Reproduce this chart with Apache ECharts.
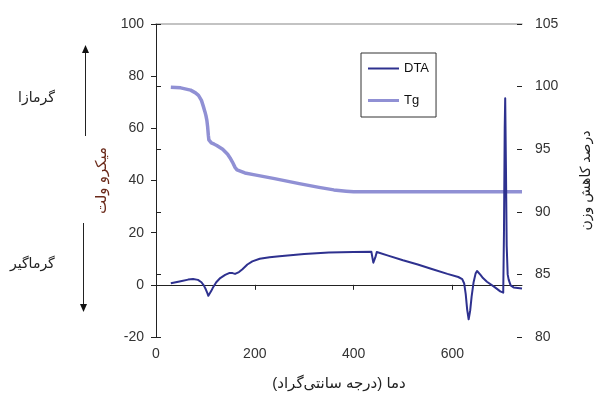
<!DOCTYPE html>
<html>
<head>
<meta charset="utf-8">
<script src="https://cdn.jsdelivr.net/npm/echarts@6/dist/echarts.min.js"></script>
<style>html,body{margin:0;padding:0;background:#fff;}#c{width:594px;height:394px;}</style>
</head>
<body>
<div id="c"></div>
<script>
// ---- data ----
var dtaTemp = [30, 50, 65, 75, 85, 92, 97, 101, 104, 106, 107.5, 109, 112, 116, 122, 130, 140, 148, 155, 160, 164, 168, 175, 185, 195, 210, 230, 250, 300, 350, 400, 436, 438, 440, 442, 444, 447, 470, 500, 530, 560, 590, 612, 620, 624, 627, 630, 633, 636, 639, 643, 647, 650, 653, 657, 662, 670, 685, 697, 703, 704.5, 706, 707, 708.5, 710, 712, 714, 718, 724, 741];
var dtaVal  = [0.6, 1.4, 2.0, 2.2, 1.9, 1.0, -0.3, -1.8, -3.2, -4.2, -4.6, -3.8, -2.3, -0.8, 1.0, 2.6, 3.8, 4.5, 4.5, 4.2, 4.3, 4.9, 6.0, 7.8, 9.0, 10.0, 10.6, 11.0, 11.8, 12.4, 12.6, 12.7, 12.0, 8.5, 8.0, 10.5, 12.6, 11.2, 9.4, 7.8, 6.0, 4.2, 3.0, 2.2, 0.5, -3.5, -9.5, -13.2, -10.0, -4.5, 1.0, 4.3, 5.3, 5.0, 3.8, 2.6, 1.2, -0.8, -2.5, -3.0, 20, 60, 71.5, 45, 15, 4, 2, -0.2, -1.0, -1.4];
var tgTemp = [30, 50, 70, 80, 86, 92, 96, 99, 101, 103, 104.5, 106, 107, 109, 112, 118, 123, 135, 145, 150, 155, 160, 164, 168, 180, 200, 240, 290, 330, 360, 385, 400, 741];
var tgVal  = [99.95, 99.9, 99.72, 99.5, 99.3, 98.9, 98.4, 98.0, 97.7, 97.3, 96.8, 96.1, 95.75, 95.6, 95.5, 95.4, 95.3, 95.0, 94.6, 94.3, 93.95, 93.55, 93.35, 93.22, 93.1, 92.95, 92.65, 92.25, 91.95, 91.75, 91.65, 91.6, 91.6];
var xTicks = [0, 200, 400, 600];
var leftTicks = [-20, 0, 20, 40, 60, 80, 100];
var rightTicks = [80, 85, 90, 95, 100, 105];
var seriesNames = ['DTA', 'Tg'];
var xName = 'دما (درجه سانتی\u200cگراد)\u200f';
var leftName = 'میکرو ولت';
var rightName = 'درصد کاهش وزن';
var upLabel = 'گرمازا';
var downLabel = 'گرماگیر';

function zip(a, b) { return a.map(function (v, i) { return [v, b[i]]; }); }

var FONT = '"Liberation Sans", "DejaVu Sans", Arial, sans-serif';
var chart = echarts.init(document.getElementById('c'), null, {renderer: 'canvas'});
chart.setOption({
  animation: false,
  backgroundColor: '#fff',
  textStyle: {fontFamily: FONT},
  grid: {left: 156, right: 72, top: 24, bottom: 57, containLabel: false, outerBoundsMode: 'none'},
  legend: {
    data: [
      {name: seriesNames[0], icon: 'path://M0,0L31,0L31,2L0,2Z'},
      {name: seriesNames[1], icon: 'path://M0,0L31,0L31,3L0,3Z'}
    ],
    orient: 'vertical',
    left: 361, top: 53,
    padding: [9, 7, 10, 7],
    itemWidth: 31, itemHeight: 14, itemGap: 19,
    symbolKeepAspect: true,
    borderColor: '#333', borderWidth: 1,
    textStyle: {fontSize: 13, color: '#111', fontFamily: FONT}
  },
  xAxis: [{
    type: 'value', position: 'bottom', min: xTicks[0], max: 741, interval: 200,
    name: xName, nameLocation: 'middle', nameGap: 39,
    nameTextStyle: {fontSize: 15, color: '#222', fontFamily: FONT},
    axisLine: {lineStyle: {color: '#222', width: 1}},
    axisTick: {show: true, length: 5, lineStyle: {color: '#222'}},
    axisLabel: {fontSize: 14, color: '#333', margin: 10, showMaxLabel: false,
      formatter: function (v) { return xTicks.indexOf(v) >= 0 ? String(v) : ''; }},
    splitLine: {show: false}
  }, {
    type: 'value', position: 'top', min: 0, max: 741,
    axisLine: {show: true, lineStyle: {color: '#b0b0b0', width: 1.5}},
    axisTick: {show: false}, axisLabel: {show: false}, splitLine: {show: false}
  }],
  yAxis: [{
    type: 'value', position: 'left', min: leftTicks[0], max: leftTicks[leftTicks.length - 1], interval: 20,
    name: leftName, nameLocation: 'middle', nameGap: 44, nameRotate: 90,
    nameTextStyle: {fontSize: 15, color: '#6b2a1a', fontFamily: FONT},
    axisLine: {show: true, lineStyle: {color: '#222', width: 1}},
    axisTick: {show: true, length: 5, lineStyle: {color: '#222'}},
    axisLabel: {fontSize: 14, color: '#333', margin: 12},
    splitLine: {show: false}
  }, {
    type: 'value', position: 'right', min: rightTicks[0], max: rightTicks[rightTicks.length - 1], interval: 5,
    name: rightName, nameLocation: 'middle', nameGap: 57, nameRotate: 90,
    nameTextStyle: {fontSize: 14, color: '#222', fontFamily: FONT},
    axisLine: {show: true, lineStyle: {color: '#222', width: 1}},
    axisTick: {show: true, length: 5, lineStyle: {color: '#222'}},
    axisLabel: {fontSize: 14, color: '#333', margin: 13},
    splitLine: {show: false}
  }, {
    type: 'value', position: 'right', min: rightTicks[0], max: rightTicks[rightTicks.length - 1], interval: 5,
    axisLine: {show: false},
    axisTick: {show: true, inside: true, length: 5, lineStyle: {color: '#222'}},
    axisLabel: {show: false}, splitLine: {show: false}
  }],
  series: [{
    name: seriesNames[0], type: 'line', xAxisIndex: 0, yAxisIndex: 0,
    data: zip(dtaTemp, dtaVal), symbol: 'none', showSymbol: false, smooth: false,
    lineStyle: {color: '#2e318f', width: 2, join: 'round'}, itemStyle: {color: '#2e318f'}, z: 3
  }, {
    name: seriesNames[1], type: 'line', xAxisIndex: 0, yAxisIndex: 1,
    data: zip(tgTemp, tgVal), symbol: 'none', showSymbol: false, smooth: false,
    lineStyle: {color: '#9090d4', width: 3.5, join: 'round'}, itemStyle: {color: '#9090d4'}, z: 2
  }],
  graphic: [
    {type: 'text', left: 18, top: 91, style: {text: upLabel, fill: '#222', font: '14px ' + FONT}},
    {type: 'text', left: 10, top: 257, style: {text: downLabel, fill: '#222', font: '14px ' + FONT}},
    {type: 'line', shape: {x1: 85.5, y1: 136, x2: 85.5, y2: 52}, style: {stroke: '#222', lineWidth: 1}},
    {type: 'polygon', shape: {points: [[85.5, 45], [82, 53], [89, 53]]}, style: {fill: '#111'}},
    {type: 'line', shape: {x1: 83.5, y1: 223, x2: 83.5, y2: 305}, style: {stroke: '#222', lineWidth: 1}},
    {type: 'polygon', shape: {points: [[83.5, 312], [80, 304], [87, 304]]}, style: {fill: '#111'}}
  ]
});
</script>
</body>
</html>
